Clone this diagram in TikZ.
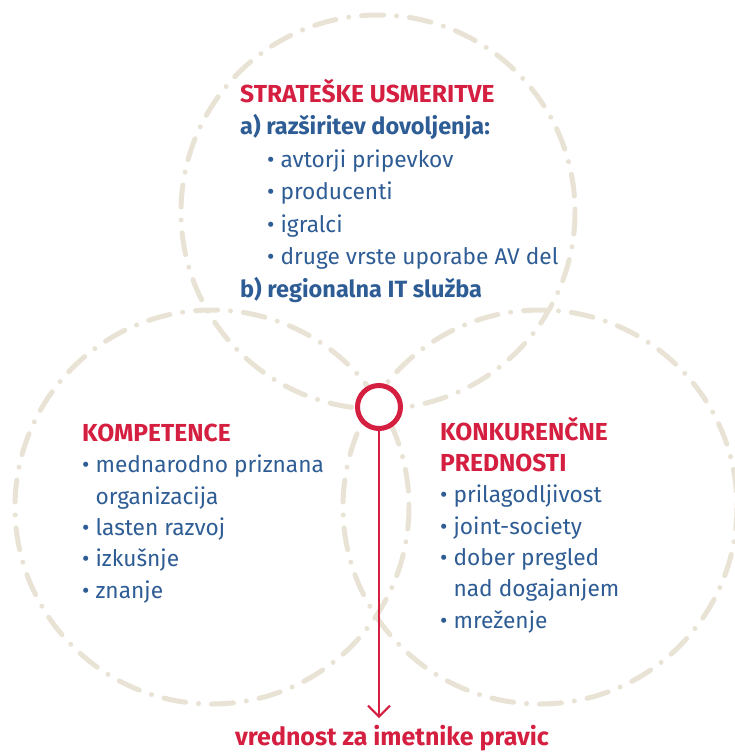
\documentclass[tikz,border=0pt]{standalone}
\usepackage{fontspec}
\setmainfont{Fira Sans}
\usetikzlibrary{arrows.meta}
\definecolor{ored}{HTML}{D51F40}
\definecolor{oblue}{HTML}{2E5C94}
\definecolor{obeige}{HTML}{E9E3D6}
\newcommand{\hd}[1]{{\color{ored}\bfseries\fontsize{24.6}{30}\selectfont #1}}
\newcommand{\sub}[1]{{\bfseries\fontsize{23.5}{30}\selectfont #1}}
\begin{document}
\begin{tikzpicture}[x=1pt, y=-1pt,
    ring/.style = {draw=obeige, line width=5pt, line cap=round, dash pattern=on 22pt off 13pt on 0pt off 13pt},
    txt/.style = {anchor=base west, inner sep=0pt, align=left, text=oblue, font=\fontsize{22.7}{31.3}\selectfont},
    head/.style = {text=ored, inner sep=0pt, font=\fontsize{25}{30}\selectfont\bfseries}]
  \useasboundingbox (0,0) rectangle (734,752);
  \draw[ring] (378,212) circle[radius=197];
  \draw[ring] (212,507) circle[radius=197];
  \draw[ring] (540,507) circle[radius=197];
  % nodes sit on the baseline of their last line
  \node[txt, font=\fontsize{22.7}{32.5}\selectfont] (strat) at (240,297) {\hd{STRATEŠKE USMERITVE}\\
    \sub{a) razširitev dovoljenja:}\\
    \hspace*{27pt}• avtorji pripevkov\\
    \hspace*{27pt}• producenti\\
    \hspace*{27pt}• igralci\\
    \hspace*{27pt}• druge vrste uporabe AV del\\
    \sub{b) regionalna IT služba}};
  \node[txt] (komp) at (82,598) {\hd{KOMPETENCE}\\
    • mednarodno priznana\\
    \hphantom{•}\ organizacija\\
    • lasten razvoj\\
    • izkušnje\\
    • znanje};
  \node[txt] (konk) at (440,628) {\hd{KONKURENČNE}\\
    \hd{PREDNOSTI}\\
    • prilagodljivost\\
    • joint-society\\
    • dober pregled\\
    \hphantom{•} nad dogajanjem\\
    • mreženje};
  \node[draw=ored, line width=5pt, circle, minimum size=43pt, fill=white, inner sep=0pt] (hub) at (379,407) {};
  \coordinate (tip) at (379,718);
  \draw[ored, line width=2pt, -{Straight Barb[length=11pt, width=22pt]}] (hub) -- (tip);
  \node[head, anchor=base] (val) at (392,745) {vrednost za imetnike pravic};
\end{tikzpicture}
\end{document}
